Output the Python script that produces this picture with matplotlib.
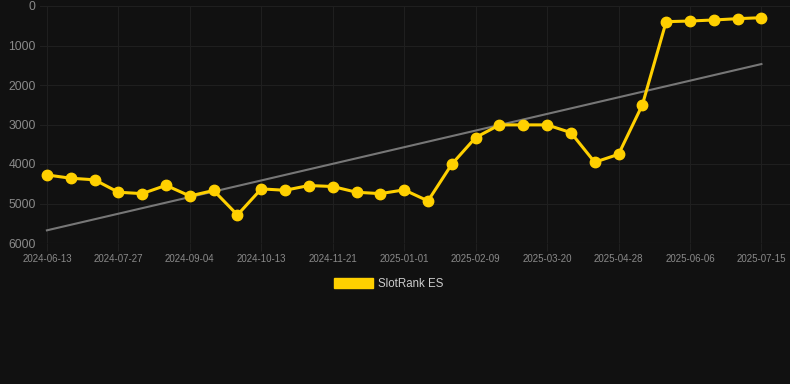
import matplotlib
matplotlib.use("Agg")
import matplotlib.pyplot as plt
import numpy as np

plt.rcParams['font.family'] = ['Liberation Sans', 'DejaVu Sans']

# weekly-ish rank samples (lower = better, axis inverted)
ranks = [4277, 4360, 4400, 4715, 4750, 4540, 4810, 4670, 5290, 4630,
         4665, 4545, 4570, 4715, 4750, 4655, 4935, 4005, 3330, 3010,
         3010, 3010, 3205, 3955, 3755, 2505, 397, 380, 354, 321, 296]
tick_labels = ['2024-06-13', '2024-07-27', '2024-09-04', '2024-10-13',
               '2024-11-21', '2025-01-01', '2025-02-09', '2025-03-20',
               '2025-04-28', '2025-06-06', '2025-07-15']
series_name = 'SlotRank ES'

bg = '#111111'
gold = '#FFD000'

x = np.arange(len(ranks))
coef = np.polyfit(x, ranks, 1)
trend = np.polyval(coef, x)

fig = plt.figure(figsize=(7.9, 3.84), dpi=100, facecolor=bg)
ax = fig.add_axes([40/790, 1-243/384, 750/790, 237/384])
ax.set_facecolor(bg)

ax.plot(x, trend, color='#777777', lw=1.5, zorder=2)
ax.plot(x, ranks, color=gold, lw=2.2, marker='o', ms=7.5, zorder=3,
        label=series_name)

ax.set_ylim(6000, 0)
ax.set_xlim(-0.29, 31.2)
ax.set_yticks(range(0, 6001, 1000))
ax.set_xticks(x[::3])
ax.set_xticklabels(tick_labels)

ax.grid(True, color='#1f1f1f', lw=0.8)
ax.axhline(6000, color='#292929', lw=0.8, zorder=1)
for s in ax.spines.values():
    s.set_visible(False)
ax.tick_params(axis='x', colors='#1f1f1f', labelcolor='#8a8a8a',
               labelsize=7, length=6, width=0.8, pad=2)
ax.tick_params(axis='y', length=0, labelcolor='#8a8a8a', labelsize=8.7, pad=3)

handle = plt.Rectangle((0, 0), 1, 1, color=gold)
leg = fig.legend([handle], [series_name], loc='center',
                 bbox_to_anchor=(0.4915, 1-284/384), frameon=False,
                 handlelength=3.4, handleheight=0.9, fontsize=8.3,
                 labelcolor='#cccccc', handletextpad=0.4)

fig.savefig('out.png', facecolor=bg)
